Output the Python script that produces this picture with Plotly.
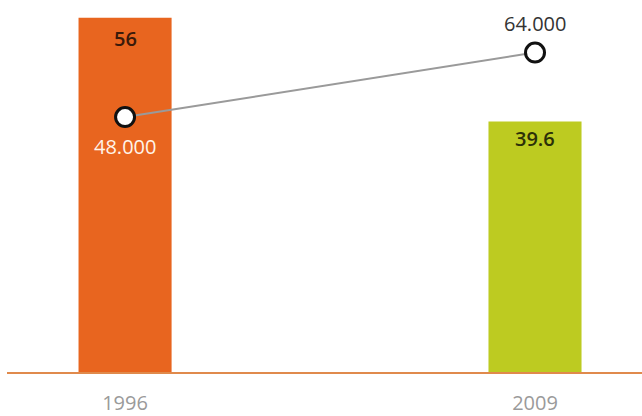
import plotly.graph_objects as go

years = ["1996", "2009"]
bar_values = [56, 39.6]
bar_colors = ["#E8651F", "#BDCB21"]
bar_text_colors = ["#3A1A0A", "#2C3008"]
bar_label_shift = [-21, -17]
line_values = [48, 64]
line_text_colors = ["#FFF4EA", "#333333"]
line_label_shift = [-29, 29]

FONT = "Open Sans"
fig = go.Figure()
fig.add_trace(go.Bar(
    x=[0, 1], y=bar_values, width=0.227,
    marker=dict(color=bar_colors, line=dict(width=0)),
    hoverinfo="skip",
))
fig.add_trace(go.Scatter(
    x=[0, 1], y=line_values, yaxis="y2",
    mode="lines+markers",
    line=dict(color="#9A9A9A", width=2),
    marker=dict(size=19, color="white", line=dict(color="#111111", width=3)),
    cliponaxis=False,
    hoverinfo="skip",
))
for i, v in enumerate(bar_values):
    fig.add_annotation(x=i, y=v, xref="x", yref="y", text=str(v),
                       showarrow=False, yanchor="middle", yshift=bar_label_shift[i],
                       font=dict(size=20, color=bar_text_colors[i], family=FONT, weight=600))
for i, v in enumerate(line_values):
    fig.add_annotation(x=i, y=v, xref="x", yref="y2", text=f"{v:.3f}",
                       showarrow=False, yanchor="middle", yshift=line_label_shift[i],
                       font=dict(size=20, color=line_text_colors[i], family=FONT))
fig.update_layout(
    width=642, height=416,
    margin=dict(l=7, r=0, t=0, b=40),
    paper_bgcolor="white", plot_bgcolor="white",
    showlegend=False,
    xaxis=dict(range=[-0.288, 1.261], tickvals=[0, 1], ticktext=years,
               showgrid=False, zeroline=False, showline=True,
               linecolor="#E08A4C", linewidth=2, ticks="",
               ticklabelstandoff=12,
               tickfont=dict(color="#9A9A9A", size=20, family=FONT)),
    yaxis=dict(range=[0, 58.8], visible=False, showgrid=False, zeroline=False),
    yaxis2=dict(range=[-15.26, 77.05], overlaying="y", visible=False,
                showgrid=False, zeroline=False),
)
fig.write_html("out.html")
